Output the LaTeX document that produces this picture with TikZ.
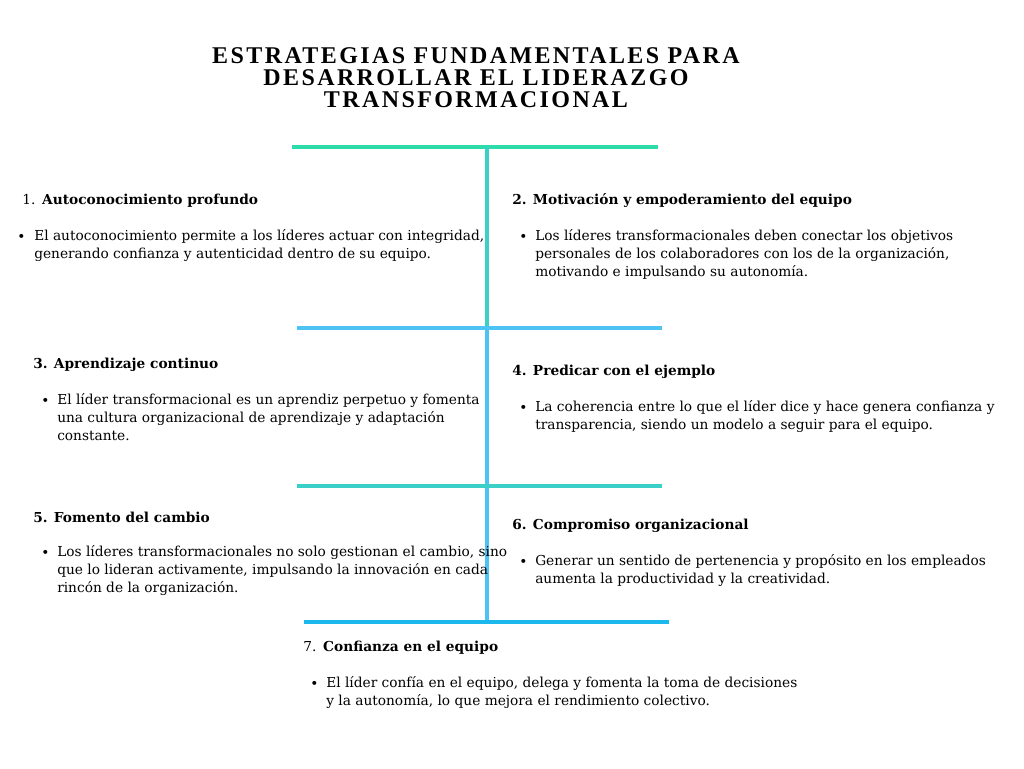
\documentclass[tikz,border=0pt]{standalone}
\usepackage{fontspec}
\setmainfont{DejaVu Serif}
\newfontfamily\titlefont[LetterSpace=10]{Liberation Serif}
\definecolor{tgreen}{HTML}{2EDBAA}
\definecolor{lblue}{HTML}{4CC3F5}
\definecolor{cblue}{HTML}{1AB8EC}
\definecolor{mid}{HTML}{3AD0C8}
\begin{document}
\begin{tikzpicture}[x=0.75pt,y=-0.75pt,
  hdr/.style={anchor=west,font=\fontsize{10.3}{13.5}\selectfont\bfseries,inner sep=0pt},
  body/.style={anchor=north west,align=left,font=\fontsize{10.3}{13.5}\selectfont,inner sep=0pt},
  bul/.style={anchor=west,font=\fontsize{10.3}{13.5}\selectfont,inner sep=0pt},
  ln/.style={line width=3pt}]
\useasboundingbox[fill=white] (0,0) rectangle (1024,768);
\node[align=center,font=\titlefont\fontsize{18}{16.5}\selectfont\bfseries,inner sep=0pt] (title) at (476,78)
  {ESTRATEGIAS FUNDAMENTALES PARA\\DESARROLLAR EL LIDERAZGO\\TRANSFORMACIONAL};
\coordinate (t1) at (292,147); \coordinate (t2) at (658,147);
\coordinate (v0) at (487,147); \coordinate (v1) at (487,328); \coordinate (v2) at (487,486); \coordinate (v3) at (487,622);
\draw[ln,tgreen] (t1) -- (t2);
\draw[ln,mid] (v0) -- (v1);
\draw[ln,lblue] (v1) -- (v2);
\draw[ln,lblue] (v2) -- (v3);
\coordinate (a1) at (297,328); \coordinate (a2) at (662,328);
\coordinate (b1) at (297,486); \coordinate (b2) at (662,486);
\coordinate (c1) at (304,622); \coordinate (c2) at (669,622);
\draw[ln,lblue] (a1) -- (a2);
\draw[ln,mid] (b1) -- (b2);
\draw[ln,cblue] (c1) -- (c2);
\node[hdr] (h1) at (22,201) {\mdseries 1.\enspace\bfseries Autoconocimiento profundo};
\node[bul] (d1) at (17,238) {•};
\node[body] (x1) at (34,229) {El autoconocimiento permite a los líderes actuar con integridad,\\generando confianza y autenticidad dentro de su equipo.};
\node[hdr] (h2) at (512,201) {2. Motivación y empoderamiento del equipo};
\node[bul] (d2) at (519,238) {•};
\node[body] (x2) at (535,229) {Los líderes transformacionales deben conectar los objetivos\\personales de los colaboradores con los de la organización,\\motivando e impulsando su autonomía.};
\node[hdr] (h3) at (33,365) {3. Aprendizaje continuo};
\node[bul] (d3) at (41,402) {•};
\node[body] (x3) at (57,393) {El líder transformacional es un aprendiz perpetuo y fomenta\\una cultura organizacional de aprendizaje y adaptación\\constante.};
\node[hdr] (h4) at (512,372) {4. Predicar con el ejemplo};
\node[bul] (d4) at (519,409) {•};
\node[body] (x4) at (535,400) {La coherencia entre lo que el líder dice y hace genera confianza y\\transparencia, siendo un modelo a seguir para el equipo.};
\node[hdr] (h5) at (33,517) {5. Fomento del cambio};
\node[bul] (d5) at (41,554) {•};
\node[body] (x5) at (57,545) {Los líderes transformacionales no solo gestionan el cambio, sino\\que lo lideran activamente, impulsando la innovación en cada\\rincón de la organización.};
\node[hdr] (h6) at (512,526) {6. Compromiso organizacional};
\node[bul] (d6) at (519,563) {•};
\node[body] (x6) at (535,554) {Generar un sentido de pertenencia y propósito en los empleados\\aumenta la productividad y la creatividad.};
\node[hdr] (h7) at (303,648) {\mdseries 7.\enspace\bfseries Confianza en el equipo};
\node[bul] (d7) at (310,685) {•};
\node[body] (x7) at (326,676) {El líder confía en el equipo, delega y fomenta la toma de decisiones\\y la autonomía, lo que mejora el rendimiento colectivo.};
\end{tikzpicture}
\end{document}
